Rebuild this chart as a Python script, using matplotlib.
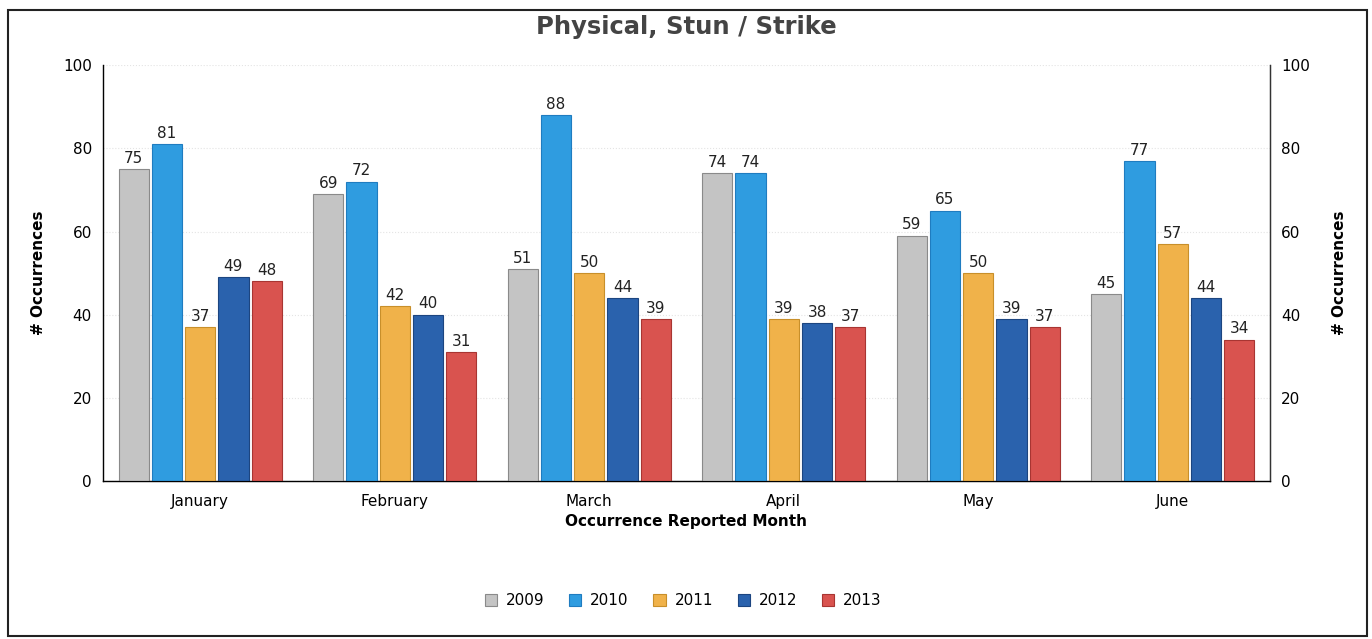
import numpy as np
import matplotlib.pyplot as plt
from matplotlib.patches import Rectangle

# 数据
months = ['January', 'February', 'March', 'April', 'May', 'June']
years = ['2009', '2010', '2011', '2012', '2013']
v2009 = [75, 69, 51, 74, 59, 45]
v2010 = [81, 72, 88, 74, 65, 77]
v2011 = [37, 42, 50, 39, 50, 57]
v2012 = [49, 40, 44, 38, 39, 44]
v2013 = [48, 31, 39, 37, 37, 34]

series = [v2009, v2010, v2011, v2012, v2013]
colors = ['#c4c4c4', '#2f9ce0', '#f0b24a', '#2a62ad', '#d9534f']
edges = ['#8a8a8a', '#1f7cc0', '#c88f2a', '#1c4580', '#a83532']

fig = plt.figure(figsize=(13.72, 6.39), dpi=100)
ax = fig.add_axes([0.075, 0.247, 0.8507, 0.651])

x = np.arange(len(months))
slot = 0.171
width = 0.155
for i, (vals, c, ec) in enumerate(zip(series, colors, edges)):
    pos = x + (i - 2) * slot
    bars = ax.bar(pos, vals, width, color=c, edgecolor=ec, linewidth=0.8,
                  label=years[i], zorder=3)
    for b, v in zip(bars, vals):
        ax.text(b.get_x() + b.get_width() / 2, v + 0.8, str(v),
                ha='center', va='bottom', fontsize=11, color='#222222')

ax.set_xlim(-0.5, len(months) - 0.5)
ax.set_ylim(0, 100)
ax.set_yticks(range(0, 101, 20))
ax.set_xticks(x)
ax.set_xticklabels(months, fontsize=11)
ax.tick_params(axis='y', labelsize=11, length=0, pad=8)
ax.tick_params(axis='x', length=0, pad=9)
ax.grid(axis='y', color='#e4e4e4', linestyle=':', linewidth=0.8, zorder=0)
ax.spines['top'].set_visible(False)
for s in ['left', 'right', 'bottom']:
    ax.spines[s].set_color('#333333')
    ax.spines[s].set_linewidth(1.0)
ax.set_ylabel('# Occurrences', fontsize=11, fontweight='bold', labelpad=12)
ax.set_xlabel('Occurrence Reported Month', fontsize=11, fontweight='bold', labelpad=4)

# 右侧坐标轴
ax2 = ax.twinx()
ax2.set_ylim(0, 100)
ax2.set_yticks(range(0, 101, 20))
ax2.tick_params(axis='y', labelsize=11, length=0, pad=8)
ax2.spines['top'].set_visible(False)
ax2.spines['right'].set_color('#333333')
ax2.set_ylabel('# Occurrences', fontsize=11, fontweight='bold', labelpad=16)

fig.text(0.5, 0.957, 'Physical, Stun / Strike', ha='center', va='center',
         fontsize=17.5, fontweight='bold', color='#444444')

handles, labels = ax.get_legend_handles_labels()
fig.legend(handles, labels, loc='center', bbox_to_anchor=(0.498, 0.06), ncol=5,
           frameon=False, fontsize=11, handlelength=0.8, handleheight=0.8,
           columnspacing=1.6, handletextpad=0.6)

# 外框
fig.patches.append(Rectangle((0.006, 0.005), 0.99, 0.98, transform=fig.transFigure,
                             fill=False, edgecolor='#222222', linewidth=1.5))

plt.savefig('out.png', dpi=100)
plt.close()
